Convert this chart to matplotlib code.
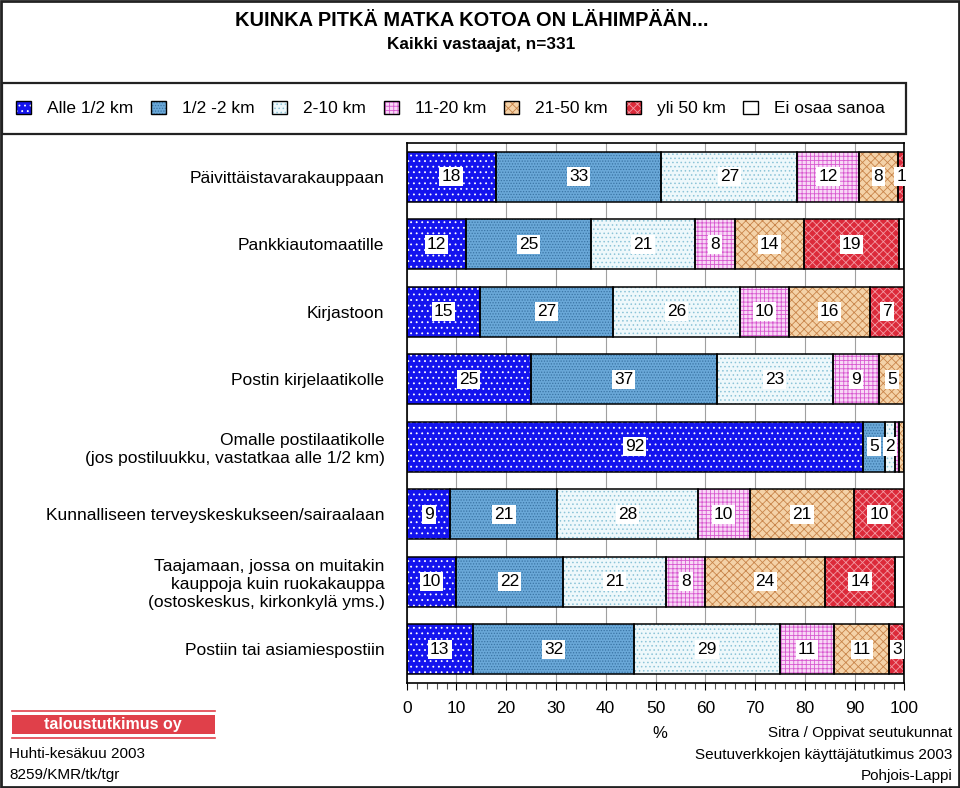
import matplotlib.pyplot as plt
import matplotlib.patches as mpatches
from matplotlib.lines import Line2D
import numpy as np

plt.rcParams['font.family'] = ['Liberation Sans', 'DejaVu Sans']
plt.rcParams['hatch.linewidth'] = 0.6

categories = [
    'Päivittäistavarakauppaan',
    'Pankkiautomaatille',
    'Kirjastoon',
    'Postin kirjelaatikolle',
    'Omalle postilaatikolle\n(jos postiluukku, vastatkaa alle 1/2 km)',
    'Kunnalliseen terveyskeskukseen/sairaalaan',
    'Taajamaan, jossa on muitakin\nkauppoja kuin ruokakauppa\n(ostoskeskus, kirkonkylä yms.)',
    'Postiin tai asiamiespostiin',
]
series = ['Alle 1/2 km', '1/2 -2 km', '2-10 km', '11-20 km', '21-50 km', 'yli 50 km', 'Ei osaa sanoa']

alle_05 = [17.9, 11.9, 14.8, 24.9, 91.6, 8.8, 9.9, 13.3]
km_05_2 = [33.3, 25.1, 26.6, 37.4, 4.6, 21.4, 21.6, 32.4]
km_2_10 = [27.3, 21.0, 25.6, 23.3, 1.9, 28.3, 20.6, 29.3]
km_11_20 = [12.4, 8.0, 9.9, 9.4, 0.9, 10.4, 7.9, 10.9]
km_21_50 = [7.8, 13.9, 16.2, 5.0, 1.0, 21.0, 24.1, 11.1]
yli_50 = [1.3, 19.0, 6.9, 0.0, 0.0, 10.1, 14.1, 3.0]
ei_osaa = [0.0, 1.1, 0.0, 0.0, 0.0, 0.0, 1.8, 0.0]
values = [alle_05, km_05_2, km_2_10, km_11_20, km_21_50, yli_50, ei_osaa]

faces = ['#1414ee', '#6aa8d8', '#eef8fb', '#f8d8f6', '#f4d2a8', '#dc2a3a', '#ffffff']
hatch_cols = ['#ffffff', '#3a74a4', '#8cc4d8', '#d858d0', '#c8844a', '#f29aa4', '#ffffff']
hatches = ['...', '......', '....', '++++', 'xxxx', 'xxxx', None]

W, H = 960, 788
fig = plt.figure(figsize=(W / 100, H / 100), dpi=100)


def fx(px):
    return px / W


def fy(py):
    return 1 - py / H


ax = fig.add_axes([fx(406.7), fy(683), fx(904.3) - fx(406.7), fy(143) - fy(683)])

y = np.arange(len(categories))
left = np.zeros(len(categories))
for i, vals in enumerate(values):
    vals = np.array(vals)
    ax.barh(y, vals, left=left, height=0.74, color=faces[i], edgecolor=hatch_cols[i],
            hatch=hatches[i], linewidth=0, zorder=2)
    ax.barh(y, vals, left=left, height=0.74, fill=False, edgecolor='black', linewidth=1.1, zorder=3)
    if i < 6:
        for yy, v, l in zip(y, vals, left):
            if v >= 1.2:
                ax.text(l + v / 2, yy, f'{round(v)}', ha='center', va='center', fontsize=12.5, zorder=4,
                        bbox=dict(boxstyle='square,pad=0.12', facecolor='white', edgecolor='none'))
    left += vals

ax.set_xlim(0, 100)
ax.set_ylim(len(categories) - 0.5, -0.5)
ax.set_xticks(np.arange(0, 101, 10))
ax.set_xticks(np.arange(0, 101, 2), minor=True)
ax.tick_params(axis='x', which='major', length=5, labelsize=12.5, pad=8, width=0.8)
ax.tick_params(axis='x', which='minor', length=4, width=0.8, color='#555555')
ax.set_yticks(y)
ax.set_yticklabels(categories, fontsize=12.5, linespacing=1.25)
ax.tick_params(axis='y', length=0, pad=16)
ax.grid(axis='x', color='#a0a0a0', linewidth=0.8, zorder=0)
ax.set_axisbelow(True)
for s in ax.spines.values():
    s.set_linewidth(1.2)

fig.text(fx(472), fy(20), 'KUINKA PITKÄ MATKA KOTOA ON LÄHIMPÄÄN...', ha='center', va='center',
         fontsize=14.4, fontweight='bold')
fig.text(fx(481), fy(45), 'Kaikki vastaajat, n=331', ha='center', va='center',
         fontsize=12.3, fontweight='bold')

handles = [mpatches.Patch(facecolor=faces[i], edgecolor='black', hatch=hatches[i], linewidth=1)
           for i in range(len(series))]
for h, hc in zip(handles, hatch_cols):
    h._hatch_color = plt.matplotlib.colors.to_rgba(hc)
leg = fig.legend(handles, series, loc='center', bbox_to_anchor=(fx(450.5), fy(108.5)), ncol=7,
                 frameon=False, fontsize=12.5, handlelength=0.86, handleheight=0.86,
                 handletextpad=0.92, columnspacing=1.03, borderpad=0)

fig.add_artist(mpatches.Rectangle((fx(2), fy(134)), fx(906) - fx(2), fy(83) - fy(134),
                                  transform=fig.transFigure, fill=False, edgecolor='#222222', linewidth=1.6))
fig.add_artist(mpatches.Rectangle((0.001, 0.001), 0.998, 0.998, transform=fig.transFigure,
                                  fill=False, edgecolor='#222222', linewidth=2))

logo_red = '#e0404a'
fig.add_artist(mpatches.Rectangle((fx(12), fy(734)), fx(215) - fx(12), fy(715) - fy(734),
                                  transform=fig.transFigure, facecolor=logo_red, edgecolor='none'))
for ly in (711, 738):
    fig.add_artist(Line2D([fx(12), fx(215)], [fy(ly), fy(ly)], transform=fig.transFigure,
                          color=logo_red, linewidth=1.2))
fig.text(fx(113), fy(724.5), 'taloustutkimus oy', ha='center', va='center', color='white',
         fontsize=11.5, fontweight='bold')
fig.text(fx(9), fy(754), 'Huhti-kesäkuu 2003', ha='left', va='center', fontsize=11)
fig.text(fx(9), fy(775), '8259/KMR/tk/tgr', ha='left', va='center', fontsize=11)

fig.text(fx(660), fy(733), '%', ha='center', va='center', fontsize=12)
fig.text(fx(952), fy(733), 'Sitra / Oppivat seutukunnat', ha='right', va='center', fontsize=11)
fig.text(fx(952), fy(755), 'Seutuverkkojen käyttäjätutkimus 2003', ha='right', va='center', fontsize=11)
fig.text(fx(952), fy(776), 'Pohjois-Lappi', ha='right', va='center', fontsize=11)

fig.savefig('out.png', dpi=100)
